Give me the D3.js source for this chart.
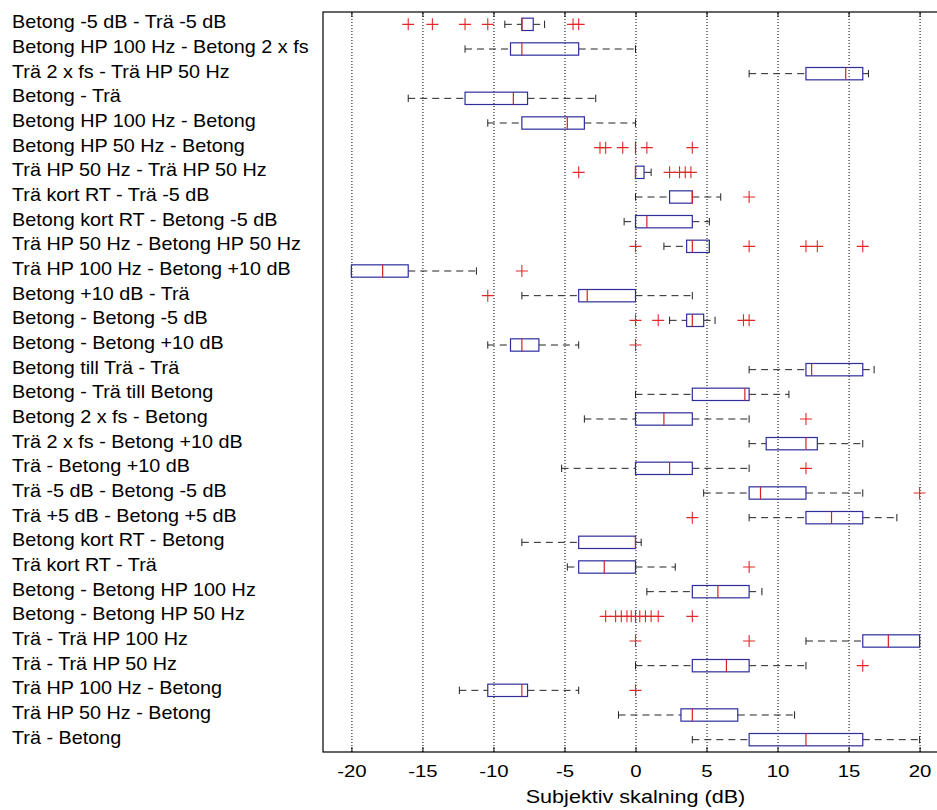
<!DOCTYPE html>
<html>
<head>
<meta charset="utf-8">
<script src="https://cdn.jsdelivr.net/npm/d3@7"></script>
<style>
  body { margin: 0; background: #fff; }
  svg { display: block; font-family: "Liberation Sans", Arial, sans-serif; }
  .grid line { stroke: #000; stroke-dasharray: 1,2; stroke-width: 1; }
  .whisker { stroke: #222; stroke-dasharray: 7,5; }
  .cap { stroke: #222; }
  .box { fill: none; stroke: #2d2d9c; stroke-width: 1.2; }
  .median { stroke: #d42020; stroke-width: 1.2; }
  .outlier { stroke: #e02828; stroke-width: 1.1; }
</style>
</head>
<body>
<svg width="937" height="810"></svg>
<script>
const categories = [
  'Betong -5 dB - Trä -5 dB',
  'Betong HP 100 Hz - Betong 2 x fs',
  'Trä 2 x fs - Trä HP 50 Hz',
  'Betong - Trä',
  'Betong HP 100 Hz - Betong',
  'Betong HP 50 Hz - Betong',
  'Trä HP 50 Hz - Trä HP 50 Hz',
  'Trä kort RT - Trä -5 dB',
  'Betong kort RT - Betong -5 dB',
  'Trä HP 50 Hz - Betong HP 50 Hz',
  'Trä HP 100 Hz - Betong +10 dB',
  'Betong +10 dB - Trä',
  'Betong - Betong -5 dB',
  'Betong - Betong +10 dB',
  'Betong till Trä - Trä',
  'Betong - Trä till Betong',
  'Betong 2 x fs - Betong',
  'Trä 2 x fs - Betong +10 dB',
  'Trä - Betong +10 dB',
  'Trä -5 dB - Betong -5 dB',
  'Trä +5 dB - Betong +5 dB',
  'Betong kort RT - Betong',
  'Trä kort RT - Trä',
  'Betong - Betong HP 100 Hz',
  'Betong - Betong HP 50 Hz',
  'Trä - Trä HP 100 Hz',
  'Trä - Trä HP 50 Hz',
  'Trä HP 100 Hz - Betong',
  'Trä HP 50 Hz - Betong',
  'Trä - Betong'
];

const lowWhisker  = [-9.2, -12, 8, -16, -10.4, 0, 0, 0, -0.8, 2, -20, -8, 2.4, -10.4, 8, 0, -3.6, 8, -5.2, 4.8, 8, -8, -4.8, 0.8, 0, 12, 0, -12.4, -1.2, 4];
const q1          = [-8, -8.8, 12, -12, -8, 0, 0, 2.4, 0, 3.6, -20, -4, 3.6, -8.8, 12, 4, 0, 9.2, 0, 8, 12, -4, -4, 4, 0, 16, 4, -10.4, 3.2, 8];
const medians     = [-8, -8, 14.8, -8.6, -4.8, 0, 0, 4, 0.8, 4, -17.8, -3.4, 4, -8, 12.4, 7.7, 2, 12, 2.4, 8.8, 13.8, 0, -2.2, 5.8, 0, 17.8, 6.4, -8, 4, 12];
const q3          = [-7.2, -4, 16, -7.6, -3.6, 0, 0.6, 4, 4, 5.2, -16, 0, 4.8, -6.8, 16, 8, 4, 12.8, 4, 12, 16, 0, 0, 8, 0, 20, 8, -7.6, 7.2, 16];
const highWhisker = [-6.4, 0, 16.4, -2.8, 0, 0, 1.1, 6, 5.2, 5.2, -11.2, 4, 5.6, -4, 16.8, 10.8, 8, 16, 8, 16, 18.4, 0.4, 2.8, 8.9, 0, 20, 12, -4, 11.2, 20];
const outliers = [
  [-16, -14.3, -12, -10.4, -4.4, -4],
  [], [], [], [],
  [-2.5, -2.1, -0.9, 0.8, 4],
  [-4, 2.4, 3.1, 3.5, 3.9],
  [8],
  [],
  [0, 8, 12, 12.8, 16],
  [-8],
  [-10.4],
  [0, 1.6, 7.6, 8],
  [0],
  [], [],
  [12],
  [],
  [12],
  [20],
  [4],
  [],
  [8],
  [],
  [-2.1, -1.4, -1.0, -0.6, -0.3, 0.3, 0.7, 1.1, 1.6, 4],
  [0, 8],
  [16],
  [0],
  [], []
];

const xTicks = [-20, -15, -10, -5, 0, 5, 10, 15, 20];
const xAxisLabel = 'Subjektiv skalning (dB)';

const svg = d3.select('svg');
const height = +svg.attr('height');

const margin = {top: 12, left: 323, bottom: 58};
const innerWidth = 625;
const innerHeight = height - margin.top - margin.bottom;
const stretch = 1.2;
const labelStretch = 1.1;

const data = categories.map((c, i) => ({
  name: c,
  lo: lowWhisker[i], q1: q1[i], med: medians[i], q3: q3[i], hi: highWhisker[i],
  out: outliers[i]
}));

const xScale = d3.scaleLinear()
  .domain([-22, 22])
  .range([0, innerWidth]);

const yScale = d3.scaleBand()
  .domain(categories)
  .range([0, innerHeight]);

const step = yScale.step();
const boxH = step * 0.5;
const capH = step * 0.3;
const cy = d => yScale(d.name) + step / 2;

const g = svg.append('g')
  .attr('transform', `translate(${margin.left},${margin.top})`);

// dotted grid
const gridG = g.append('g')
  .attr('class', 'grid')
  .attr('transform', `translate(0,${innerHeight})`)
  .call(d3.axisBottom(xScale).tickValues(xTicks).tickSize(-innerHeight).tickFormat(''));
gridG.select('.domain').remove();
gridG.selectAll('text').remove();

// bottom axis, ticks inward
const xAxisG = g.append('g')
  .attr('transform', `translate(0,${innerHeight})`)
  .call(d3.axisBottom(xScale)
    .tickValues(xTicks)
    .tickSize(-5)
    .tickPadding(13)
    .tickFormat(d => String(d)));
xAxisG.select('.domain').remove();
xAxisG.selectAll('line').attr('stroke', '#000');
xAxisG.selectAll('text')
  .attr('font-size', 17)
  .attr('font-family', '"Liberation Sans", Arial, sans-serif')
  .attr('fill', '#000')
  .attr('transform', `scale(${stretch},1)`);

// top axis, ticks inward
const topAxisG = g.append('g')
  .call(d3.axisTop(xScale).tickValues(xTicks).tickSize(-5).tickFormat(''));
topAxisG.select('.domain').remove();
topAxisG.selectAll('text').remove();
topAxisG.selectAll('line').attr('stroke', '#000');

// frame
g.append('rect')
  .attr('x', 0)
  .attr('y', 0)
  .attr('width', innerWidth)
  .attr('height', innerHeight)
  .attr('fill', 'none')
  .attr('stroke', '#000')
  .attr('stroke-width', 1.2);

const rows = g.selectAll('.row').data(data)
  .enter().append('g')
    .attr('class', 'row');

rows.append('line')
  .attr('class', 'whisker')
  .attr('x1', d => xScale(d.lo))
  .attr('x2', d => xScale(d.q1))
  .attr('y1', cy)
  .attr('y2', cy);

rows.append('line')
  .attr('class', 'whisker')
  .attr('x1', d => xScale(d.q3))
  .attr('x2', d => xScale(d.hi))
  .attr('y1', cy)
  .attr('y2', cy);

rows.append('line')
  .attr('class', 'cap')
  .attr('x1', d => xScale(d.lo))
  .attr('x2', d => xScale(d.lo))
  .attr('y1', d => cy(d) - capH / 2)
  .attr('y2', d => cy(d) + capH / 2);

rows.append('line')
  .attr('class', 'cap')
  .attr('x1', d => xScale(d.hi))
  .attr('x2', d => xScale(d.hi))
  .attr('y1', d => cy(d) - capH / 2)
  .attr('y2', d => cy(d) + capH / 2);

rows.append('rect')
  .attr('class', 'box')
  .attr('x', d => xScale(d.q1))
  .attr('width', d => xScale(d.q3) - xScale(d.q1))
  .attr('y', d => cy(d) - boxH / 2)
  .attr('height', boxH);

rows.append('line')
  .attr('class', 'median')
  .attr('x1', d => xScale(d.med))
  .attr('x2', d => xScale(d.med))
  .attr('y1', d => cy(d) - boxH / 2)
  .attr('y2', d => cy(d) + boxH / 2);

// outliers as red '+'
rows.selectAll('.outlier')
  .data(d => d.out.map(v => ({v, y: cy(d)})))
  .enter().append('path')
    .attr('class', 'outlier')
    .attr('transform', p => `translate(${xScale(p.v)},${p.y})`)
    .attr('d', 'M-6,0H6M0,-6V6');

// category labels, left aligned
svg.append('g').selectAll('text').data(data)
  .enter().append('text')
    .attr('transform', d => `translate(12,${margin.top + cy(d) + 4}) scale(${labelStretch},1)`)
    .attr('font-size', 18)
    .attr('fill', '#000')
    .text(d => d.name);

svg.append('text')
  .attr('transform', `translate(${margin.left + xScale(0)},803) scale(${stretch},1)`)
  .attr('text-anchor', 'middle')
  .attr('font-size', 18)
  .attr('fill', '#000')
  .text(xAxisLabel);
</script>
</body>
</html>
